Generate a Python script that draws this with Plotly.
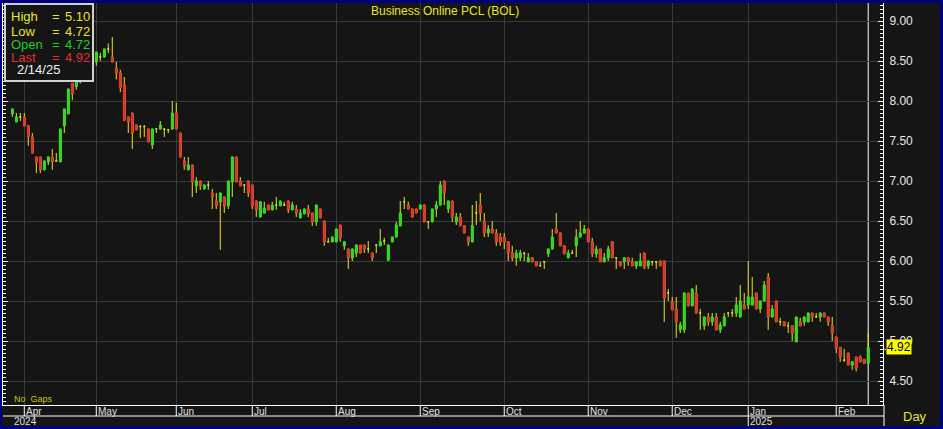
import pandas as pd
import plotly.graph_objects as go

# ---------------- data ----------------
holidays = ["2024-04-08", "2024-04-12", "2024-04-15", "2024-04-16", "2024-05-01", "2024-05-06",
            "2024-05-22", "2024-06-03", "2024-07-22", "2024-07-29", "2024-08-12", "2024-10-14",
            "2024-10-23", "2024-12-05", "2024-12-10", "2024-12-31", "2025-01-01", "2025-02-12"]
dates = [d.strftime("%Y-%m-%d") for d in pd.bdate_range("2024-03-27", "2025-02-14")
         if d.strftime("%Y-%m-%d") not in holidays]

ohlc = [
    (7.84, 7.90, 7.80, 7.90), (7.74, 7.85, 7.74, 7.80), (7.80, 7.85, 7.75, 7.80), (7.80, 7.85, 7.69, 7.69),
    (7.69, 7.70, 7.44, 7.55), (7.55, 7.60, 7.35, 7.35), (7.30, 7.30, 7.10, 7.24), (7.30, 7.30, 7.10, 7.14),
    (7.14, 7.25, 7.14, 7.25), (7.24, 7.30, 7.20, 7.30), (7.30, 7.40, 7.14, 7.24), (7.25, 7.35, 7.24, 7.25),
    (7.24, 7.65, 7.24, 7.65), (7.69, 7.90, 7.60, 7.90), (7.84, 8.15, 7.84, 8.15), (8.22, 8.22, 8.01, 8.09),
    (8.18, 8.24, 8.14, 8.24), (8.24, 8.32, 8.22, 8.32), (8.32, 8.40, 8.30, 8.40), (8.42, 8.45, 8.35, 8.38),
    (8.38, 8.49, 8.36, 8.49), (8.49, 8.61, 8.44, 8.61), (8.55, 8.60, 8.50, 8.55), (8.55, 8.65, 8.55, 8.65),
    (8.65, 8.72, 8.60, 8.65), (8.55, 8.80, 8.49, 8.49), (8.41, 8.49, 8.27, 8.35), (8.35, 8.39, 8.11, 8.17),
    (8.20, 8.30, 7.76, 7.76), (7.80, 7.80, 7.60, 7.74), (7.85, 7.85, 7.40, 7.60), (7.70, 7.70, 7.64, 7.64),
    (7.68, 7.70, 7.54, 7.68), (7.68, 7.70, 7.55, 7.68), (7.65, 7.65, 7.49, 7.49), (7.45, 7.65, 7.40, 7.65),
    (7.65, 7.65, 7.60, 7.65), (7.65, 7.75, 7.65, 7.70), (7.65, 7.65, 7.55, 7.65), (7.64, 7.65, 7.60, 7.64),
    (7.65, 8.00, 7.65, 7.85), (7.85, 7.98, 7.65, 7.65), (7.60, 7.60, 7.30, 7.30), (7.25, 7.30, 7.14, 7.19),
    (7.14, 7.30, 7.14, 7.20), (7.20, 7.20, 6.80, 6.99), (6.94, 7.05, 6.85, 7.00), (7.00, 7.00, 6.89, 6.94),
    (6.90, 6.95, 6.90, 6.95), (6.95, 7.00, 6.89, 6.95), (6.85, 6.90, 6.65, 6.80), (6.75, 6.85, 6.65, 6.69),
    (6.74, 6.85, 6.14, 6.85), (6.80, 6.80, 6.60, 6.69), (6.69, 7.00, 6.65, 7.00), (6.99, 7.30, 6.80, 7.30),
    (7.30, 7.30, 6.99, 6.99), (7.00, 7.05, 6.94, 6.94), (6.95, 6.95, 6.85, 6.95), (7.00, 7.00, 6.80, 6.85),
    (6.95, 6.95, 6.65, 6.69), (6.75, 6.75, 6.55, 6.64), (6.55, 6.74, 6.55, 6.74), (6.60, 6.74, 6.60, 6.66),
    (6.70, 6.70, 6.64, 6.64), (6.64, 6.74, 6.64, 6.70), (6.70, 6.80, 6.64, 6.70), (6.69, 6.75, 6.69, 6.75),
    (6.70, 6.74, 6.69, 6.70), (6.75, 6.75, 6.60, 6.64), (6.64, 6.74, 6.64, 6.70), (6.65, 6.70, 6.55, 6.60),
    (6.54, 6.65, 6.54, 6.60), (6.59, 6.65, 6.59, 6.65), (6.65, 6.70, 6.55, 6.59), (6.60, 6.60, 6.44, 6.49),
    (6.49, 6.70, 6.44, 6.70), (6.65, 6.65, 6.54, 6.54), (6.50, 6.50, 6.19, 6.24), (6.24, 6.29, 6.24, 6.24),
    (6.24, 6.30, 6.24, 6.30), (6.24, 6.40, 6.24, 6.40), (6.45, 6.45, 6.24, 6.29), (6.19, 6.24, 6.14, 6.24),
    (6.15, 6.15, 5.90, 6.04), (6.04, 6.15, 6.00, 6.15), (6.10, 6.20, 6.05, 6.20), (6.20, 6.20, 6.10, 6.10),
    (6.20, 6.20, 6.10, 6.15), (6.15, 6.25, 6.10, 6.15), (6.10, 6.10, 6.00, 6.04), (6.20, 6.20, 6.10, 6.20),
    (6.19, 6.40, 6.19, 6.24), (6.25, 6.29, 6.20, 6.25), (6.01, 6.20, 6.00, 6.20), (6.24, 6.30, 6.24, 6.30),
    (6.30, 6.49, 6.30, 6.45), (6.44, 6.75, 6.44, 6.60), (6.74, 6.80, 6.65, 6.74), (6.70, 6.74, 6.65, 6.65),
    (6.65, 6.65, 6.55, 6.55), (6.65, 6.65, 6.60, 6.60), (6.65, 6.70, 6.65, 6.70), (6.70, 6.71, 6.49, 6.49),
    (6.49, 6.49, 6.40, 6.49), (6.49, 6.65, 6.49, 6.65), (6.65, 6.75, 6.55, 6.70), (6.70, 7.00, 6.70, 6.95),
    (7.00, 7.00, 6.70, 6.85), (6.65, 6.75, 6.60, 6.75), (6.75, 6.75, 6.49, 6.55), (6.49, 6.60, 6.45, 6.55),
    (6.55, 6.60, 6.44, 6.44), (6.44, 6.44, 6.35, 6.35), (6.30, 6.30, 6.19, 6.24), (6.24, 6.70, 6.24, 6.44),
    (6.60, 6.75, 6.45, 6.60), (6.70, 6.85, 6.50, 6.60), (6.49, 6.60, 6.30, 6.35), (6.35, 6.45, 6.30, 6.40),
    (6.40, 6.50, 6.35, 6.35), (6.35, 6.40, 6.19, 6.24), (6.30, 6.35, 6.19, 6.24), (6.30, 6.35, 6.15, 6.24),
    (6.24, 6.24, 6.00, 6.10), (6.10, 6.19, 6.00, 6.04), (6.04, 6.14, 5.94, 6.10), (6.04, 6.14, 6.00, 6.10),
    (6.10, 6.10, 6.00, 6.10), (5.99, 6.10, 5.99, 6.04), (6.04, 6.04, 5.99, 5.99), (5.99, 5.99, 5.94, 5.94),
    (5.94, 5.99, 5.94, 5.94), (5.99, 5.99, 5.90, 5.99), (6.09, 6.15, 6.05, 6.15), (6.15, 6.40, 6.15, 6.30),
    (6.40, 6.60, 6.35, 6.35), (6.35, 6.35, 6.19, 6.19), (6.19, 6.19, 6.09, 6.09), (6.04, 6.14, 6.04, 6.10),
    (6.10, 6.14, 6.09, 6.10), (6.19, 6.40, 6.05, 6.30), (6.30, 6.50, 6.30, 6.35), (6.35, 6.45, 6.35, 6.40),
    (6.40, 6.40, 6.24, 6.24), (6.24, 6.29, 6.05, 6.09), (6.09, 6.19, 6.04, 6.15), (6.15, 6.15, 5.99, 5.99),
    (5.99, 6.10, 5.99, 6.04), (6.04, 6.19, 6.00, 6.15), (6.24, 6.24, 6.04, 6.04), (6.04, 6.04, 5.90, 6.04),
    (5.99, 5.99, 5.94, 5.94), (5.99, 6.04, 5.90, 6.04), (6.04, 6.04, 5.94, 5.99), (5.99, 6.04, 5.94, 5.94),
    (5.94, 5.99, 5.90, 5.99), (5.94, 6.10, 5.94, 6.00), (6.10, 6.10, 5.90, 5.92), (5.94, 6.00, 5.90, 6.00),
    (5.99, 6.00, 5.94, 5.99), (5.99, 6.00, 5.90, 5.99), (6.00, 6.00, 5.94, 5.94), (6.00, 6.00, 5.24, 5.54),
    (5.60, 5.65, 5.50, 5.60), (5.49, 5.55, 5.39, 5.39), (5.40, 5.55, 5.04, 5.24), (5.14, 5.24, 5.10, 5.20),
    (5.14, 5.60, 5.10, 5.60), (5.60, 5.60, 5.44, 5.44), (5.44, 5.65, 5.44, 5.65), (5.60, 5.70, 5.35, 5.35),
    (5.35, 5.40, 5.14, 5.35), (5.19, 5.30, 5.14, 5.30), (5.30, 5.35, 5.19, 5.24), (5.24, 5.35, 5.19, 5.30),
    (5.30, 5.35, 5.14, 5.14), (5.14, 5.24, 5.10, 5.20), (5.19, 5.35, 5.19, 5.30), (5.35, 5.35, 5.30, 5.35),
    (5.35, 5.40, 5.30, 5.35), (5.35, 5.55, 5.30, 5.45), (5.30, 5.70, 5.30, 5.50), (5.45, 5.60, 5.40, 5.40),
    (5.45, 6.00, 5.40, 5.55), (5.45, 5.80, 5.45, 5.55), (5.60, 5.60, 5.40, 5.40), (5.40, 5.50, 5.35, 5.50),
    (5.50, 5.75, 5.50, 5.70), (5.80, 5.85, 5.14, 5.30), (5.30, 5.45, 5.30, 5.40), (5.50, 5.50, 5.24, 5.24),
    (5.24, 5.29, 5.19, 5.24), (5.24, 5.24, 5.19, 5.19), (5.19, 5.24, 5.10, 5.19), (5.19, 5.19, 5.00, 5.10),
    (4.99, 5.30, 4.99, 5.30), (5.24, 5.29, 5.19, 5.19), (5.24, 5.30, 5.19, 5.30), (5.24, 5.35, 5.24, 5.35),
    (5.35, 5.35, 5.24, 5.30), (5.30, 5.35, 5.30, 5.30), (5.30, 5.35, 5.24, 5.35), (5.35, 5.35, 5.30, 5.30),
    (5.30, 5.30, 5.19, 5.24), (5.19, 5.30, 5.00, 5.10), (5.05, 5.05, 4.85, 4.91), (4.92, 4.92, 4.74, 4.80),
    (4.76, 4.90, 4.74, 4.76), (4.85, 4.85, 4.70, 4.70), (4.70, 4.74, 4.64, 4.74), (4.80, 4.80, 4.62, 4.66),
    (4.80, 4.82, 4.74, 4.74), (4.77, 4.77, 4.72, 4.72), (4.72, 5.10, 4.72, 4.92),
]
opens = [r[0] for r in ohlc]
highs = [r[1] for r in ohlc]
lows = [r[2] for r in ohlc]
closes = [r[3] for r in ohlc]

month_names = ["Apr", "May", "Jun", "Jul", "Aug", "Sep", "Oct", "Nov", "Dec", "Jan", "Feb"]
month_keys = ["2024-04", "2024-05", "2024-06", "2024-07", "2024-08", "2024-09", "2024-10",
              "2024-11", "2024-12", "2025-01", "2025-02"]
month_starts = [next(d for d in dates if d.startswith(k)) for k in month_keys]
year_labels = ["2024", "2025"]
year_starts = [dates[0], month_starts[9]]
title_text = "Business Online PCL (BOL)"

# ---------------- style ----------------
BG = "#151515"
GRID = "#3a3a3a"
YEL = "#e6e62a"
GRN = "#22e022"
RED = "#e52f2f"
FONT = "Liberation Sans, Arial, sans-serif"
W, H = 943, 429
L, R, T, B = 3, 60, 3, 24
PW, PH = W - L - R, H - T - B


def px(xp):
    return (xp - L) / PW


def py(yp):
    return (H - B - yp) / PH


# body trace excludes doji (open == close)
b_o = [o if o != c else None for o, c in zip(opens, closes)]
b_c = [c if o != c else None for o, c in zip(opens, closes)]
b_h = [max(o, c) if o != c else None for o, c in zip(opens, closes)]
b_l = [min(o, c) if o != c else None for o, c in zip(opens, closes)]

fig = go.Figure()
fig.add_trace(go.Candlestick(
    x=dates, open=opens, high=highs, low=lows, close=closes,
    increasing=dict(line=dict(color=YEL, width=1), fillcolor=YEL),
    decreasing=dict(line=dict(color=YEL, width=1), fillcolor=YEL),
    showlegend=False, hoverinfo="skip"))
fig.add_trace(go.Candlestick(
    x=dates, open=b_o, high=b_h, low=b_l, close=b_c,
    increasing=dict(line=dict(color=GRN, width=1), fillcolor=GRN),
    decreasing=dict(line=dict(color=RED, width=1), fillcolor=RED),
    showlegend=False, hoverinfo="skip"))

shapes = []
# last-bar vertical marker
shapes.append(dict(type="line", xref="x", yref="paper", x0=dates[-1], x1=dates[-1], y0=0, y1=1,
                   line=dict(color="white", width=1), layer="below"))
# axis band lines
shapes.append(dict(type="line", xref="paper", yref="paper", x0=0, x1=px(884), y0=py(416), y1=py(416),
                   line=dict(color="white", width=1)))
shapes.append(dict(type="line", xref="paper", yref="paper", x0=px(884), x1=px(884), y0=0, y1=py(426),
                   line=dict(color="white", width=1)))
for i, d in enumerate(month_starts):
    y1 = py(426) if d in year_starts else py(416)
    shapes.append(dict(type="line", xref="x", yref="paper", x0=d, x1=d, y0=0, y1=y1,
                       line=dict(color="white", width=1)))
# info box
shapes.append(dict(type="rect", xref="paper", yref="paper", x0=px(5), x1=px(93), y0=py(81), y1=py(4),
                   fillcolor=BG, line=dict(color="#d0d0d0", width=2)))
# blue frame
NAVY = "#00007f"
fx0, fx1, fy0, fy1 = px(0), px(W), py(H), py(0)
for (a, b, c, d) in [(fx0, fx1, py(3), fy1), (fx0, fx1, fy0, py(426)),
                     (fx0, px(2), fy0, fy1), (px(940), fx1, fy0, fy1)]:
    shapes.append(dict(type="rect", xref="paper", yref="paper", x0=a, x1=b, y0=c, y1=d,
                       fillcolor=NAVY, line=dict(width=0)))

ann = []
ann.append(dict(text=title_text, xref="paper", yref="paper", x=px(445), y=py(11), showarrow=False,
                font=dict(family=FONT, size=12, color=YEL), xanchor="center", yanchor="middle"))
info = [("High", highs[-1], YEL, 17), ("Low", lows[-1], YEL, 31),
        ("Open", opens[-1], "#22cc22", 44), ("Last", closes[-1], "#e03030", 57)]
for lab, val, col, yy in info:
    for txt, xx in [(lab, 9), ("=", 50), (f"{val:.2f}", 63)]:
        ann.append(dict(text=txt, xref="paper", yref="paper", x=px(xx), y=py(yy), showarrow=False,
                        xanchor="left", yanchor="middle", font=dict(family=FONT, size=13, color=col)))
last_dt = pd.Timestamp(dates[-1])
ann.append(dict(text=f"{last_dt.month}/{last_dt.day}/{last_dt.strftime('%y')}", xref="paper", yref="paper",
                x=px(15), y=py(70), showarrow=False, xanchor="left", yanchor="middle",
                font=dict(family=FONT, size=13, color="#f0f0f0")))
ann.append(dict(text="No  Gaps", xref="paper", yref="paper", x=px(12), y=py(399), showarrow=False,
                xanchor="left", yanchor="middle", font=dict(family=FONT, size=9, color="#c8c800")))
for name, d in zip(month_names, month_starts):
    ann.append(dict(text=name, xref="x", yref="paper", x=d, y=py(411), showarrow=False, xshift=0,
                    xanchor="left", yanchor="middle", font=dict(family=FONT, size=10, color="#e0e0e0")))
for name, d in zip(year_labels, year_starts):
    ann.append(dict(text=name, xref="x", yref="paper", x=d, y=py(421), showarrow=False,
                    xanchor="left", yanchor="middle", font=dict(family=FONT, size=10, color="#e0e0e0")))
ann.append(dict(text="Day", xref="paper", yref="paper", x=px(915), y=py(416), showarrow=False,
                xanchor="center", yanchor="middle", font=dict(family=FONT, size=13, color=YEL)))
ann.append(dict(text="\u2192", xref="paper", yref="y", x=px(876), y=closes[-1], showarrow=False,
                xanchor="left", yanchor="middle", font=dict(family=FONT, size=10, color=YEL)))
ann.append(dict(text=f"{closes[-1]:.2f}", xref="paper", yref="y", x=px(886), y=closes[-1], showarrow=False,
                xanchor="left", yanchor="middle", bgcolor="#ffff00", borderpad=0,
                font=dict(family=FONT, size=12, color="black")))

fig.update_layout(
    width=W, height=H, margin=dict(l=L, r=R, t=T, b=B, pad=0),
    paper_bgcolor=BG, plot_bgcolor=BG, showlegend=False,
    boxgap=0.4,
    shapes=shapes, annotations=ann,
    xaxis=dict(type="category", range=[-2.325, len(dates) + 2.7], rangeslider=dict(visible=False),
               tickvals=month_starts, showticklabels=False, ticks="", showgrid=True, gridcolor=GRID,
               gridwidth=1, showline=True, linecolor="white", linewidth=1, zeroline=False),
    yaxis=dict(side="right", range=[4.20, 9.225], dtick=0.5, tick0=0, tickformat=".2f",
               showgrid=True, gridcolor=GRID, gridwidth=1, zeroline=False,
               showline=True, linecolor="white", linewidth=1, mirror="ticks",
               ticks="inside", ticklen=5, tickcolor="white",
               minor=dict(dtick=0.05, ticks="inside", ticklen=3, tickcolor="white", showgrid=False),
               tickfont=dict(family=FONT, size=12, color="#e8e8e8"), ticklabelstandoff=3),
)

fig.write_html("out.html", config={"displayModeBar": False, "staticPlot": True},
               post_script="document.body.style.margin='0';document.body.style.overflow='hidden';"
                           "document.body.style.background='#151515';")
